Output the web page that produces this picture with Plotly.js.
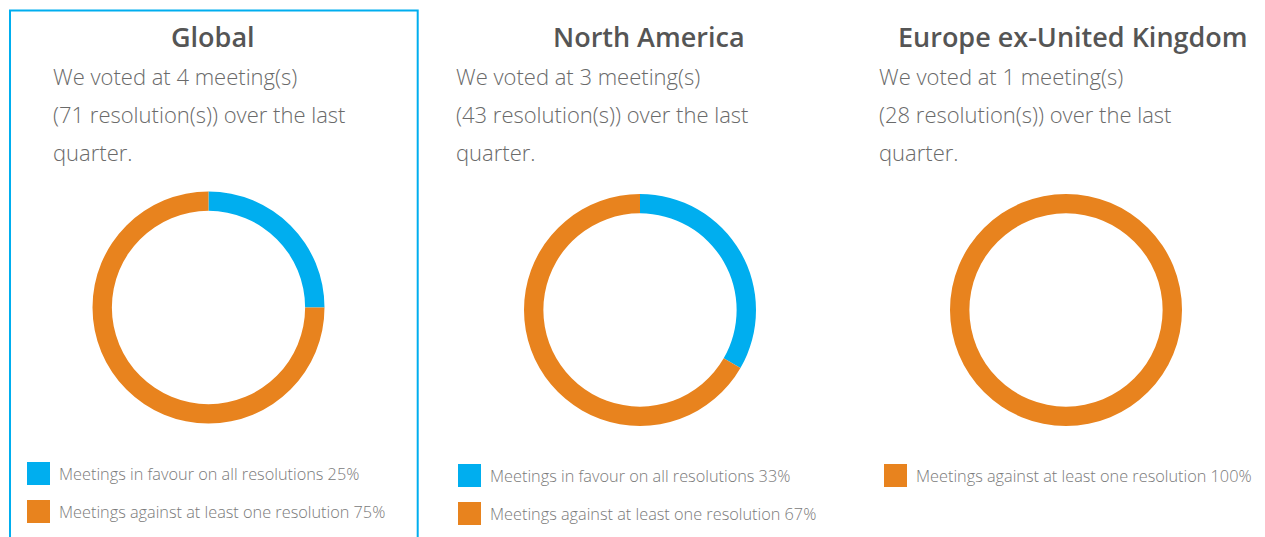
<!DOCTYPE html>
<html>
<head>
<meta charset="utf-8">
<script src="https://cdn.plot.ly/plotly-3.0.1.min.js"></script>
<style>
  html, body { margin: 0; padding: 0; background: #fff; }
  #chart { width: 1265px; height: 537px; }
</style>
</head>
<body>
<div id="chart"></div>
<script>
// ---- Data ----
const regions = ["Global", "North America", "Europe ex-United Kingdom"];
const meetings = [4, 3, 1];
const resolutions = [71, 43, 28];
const favourMeetings = [1, 1, 0];
const againstMeetings = [3, 2, 1];
const favourPct = [25, 33, 0];
const againstPct = [75, 67, 100];
const categoryLabels = ["Meetings in favour on all resolutions", "Meetings against at least one resolution"];
const categoryColors = ["#00AEEF", "#E8831E"];

// ---- Layout geometry (pixels) ----
const W = 1265, H = 537;
const centers = [[208.5, 307.5], [640, 310], [1066, 310]];
const R = 116;
const titleX = [213, 648.5, 1072.5];
const bodyX = [51, 454, 877];
const legendSqX = [27, 458, 884];
const legendY0 = [473.5, 475.5, 475.5];
const legendStep = 38;

const px = x => x / W;
const py = y => 1 - y / H;

const traces = [];
const annotations = [];
const shapes = [];

regions.forEach((reg, i) => {
  const [cx, cy] = centers[i];
  traces.push({
    type: "pie",
    labels: categoryLabels,
    values: [favourMeetings[i], againstMeetings[i]],
    marker: { colors: categoryColors, line: { width: 0 } },
    hole: 0.833,
    sort: false,
    direction: "clockwise",
    rotation: 0,
    textinfo: "none",
    hoverinfo: "label+value",
    showlegend: false,
    domain: { x: [px(cx - R), px(cx + R)], y: [py(cy + R), py(cy - R)] }
  });

  // Title
  annotations.push({
    text: reg, x: px(titleX[i]), y: py(37), xref: "paper", yref: "paper",
    xanchor: "center", yanchor: "middle", showarrow: false,
    font: { family: "Open Sans", size: 27, color: "#555555", weight: 600 }
  });

  // Body text lines
  const lines = [
    "We voted at " + meetings[i] + " meeting(s)",
    "(" + resolutions[i] + " resolution(s)) over the last",
    "quarter."
  ];
  lines.forEach((ln, k) => {
    annotations.push({
      text: ln, x: px(bodyX[i]), y: py(76 + 38 * k), xref: "paper", yref: "paper",
      xanchor: "left", yanchor: "middle", showarrow: false,
      font: { family: "Open Sans", size: 22, color: "#6a6a6a", weight: 300 }
    });
  });

  // Legend
  const pcts = [favourPct[i], againstPct[i]];
  const vals = [favourMeetings[i], againstMeetings[i]];
  let row = 0;
  vals.forEach((v, c) => {
    if (v <= 0) return;
    const yc = legendY0[i] + legendStep * row;
    shapes.push({
      type: "rect", xref: "paper", yref: "paper",
      x0: px(legendSqX[i]), x1: px(legendSqX[i] + 23),
      y0: py(yc - 11.5), y1: py(yc + 11.5),
      fillcolor: categoryColors[c], line: { width: 0 }
    });
    annotations.push({
      text: categoryLabels[c] + " " + pcts[c] + "%",
      x: px(legendSqX[i] + 30), y: py(yc), xref: "paper", yref: "paper",
      xanchor: "left", yanchor: "middle", showarrow: false,
      font: { family: "Open Sans", size: 16.3, color: "#7a7a7a", weight: 300 }
    });
    row++;
  });
});

// Highlight frame around the Global panel
shapes.push({
  type: "rect", xref: "paper", yref: "paper",
  x0: px(10), x1: px(417.7), y0: py(560), y1: py(10.5),
  line: { color: "#00AEEF", width: 2 }, fillcolor: "rgba(0,0,0,0)"
});

const layout = {
  width: W, height: H,
  margin: { l: 0, r: 0, t: 0, b: 0 },
  paper_bgcolor: "#ffffff",
  plot_bgcolor: "#ffffff",
  showlegend: false,
  annotations: annotations,
  shapes: shapes
};

Plotly.newPlot("chart", traces, layout, { displayModeBar: false, staticPlot: true });
</script>
</body>
</html>
